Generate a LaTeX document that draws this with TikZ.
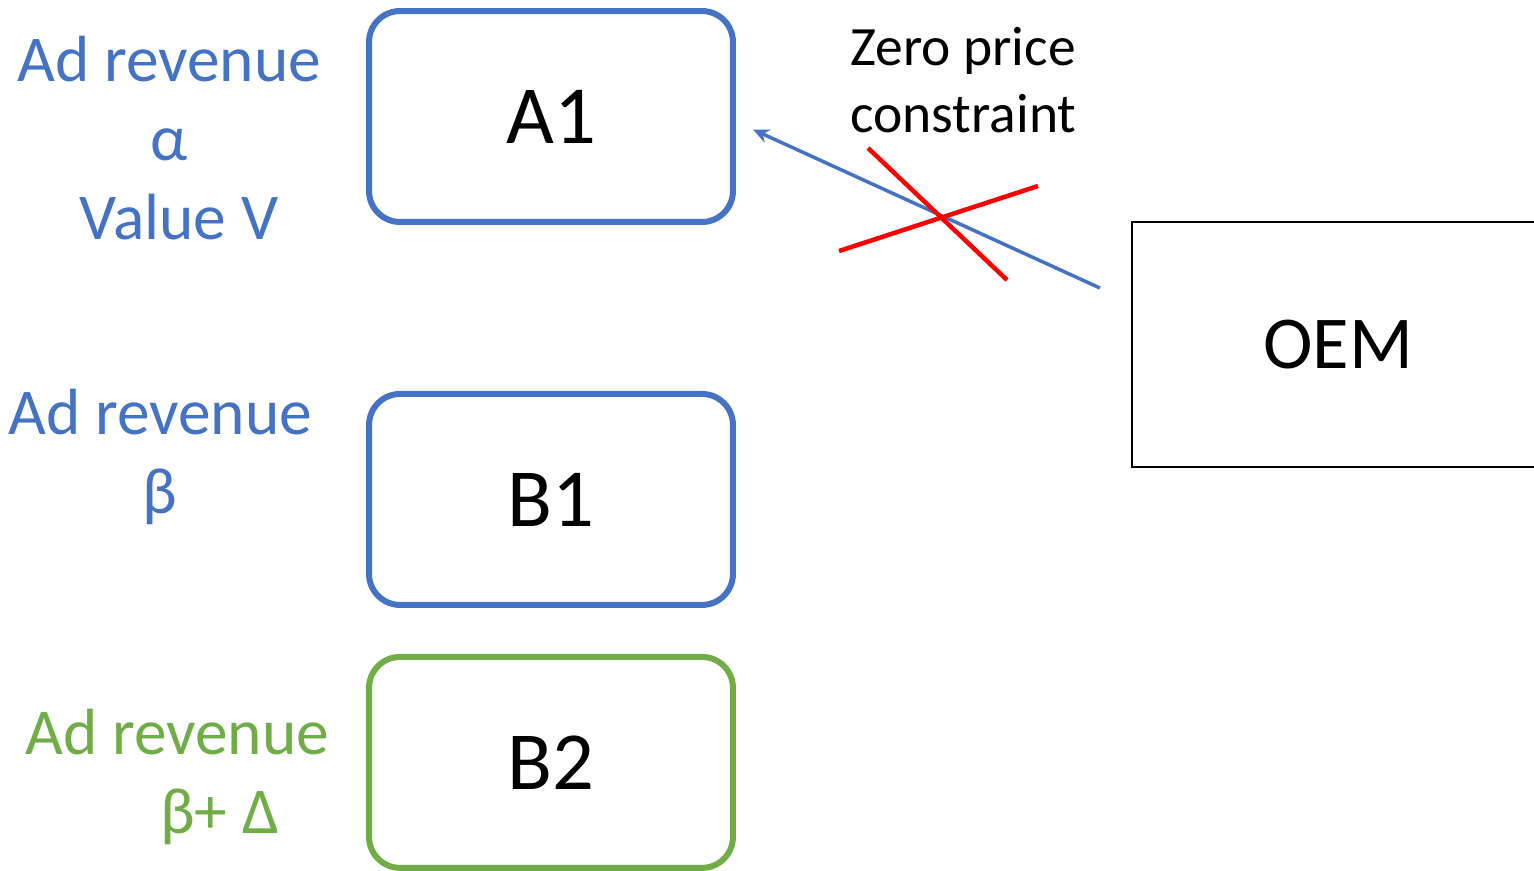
\documentclass[tikz,border=0pt]{standalone}
\usepackage{fontspec}
\setmainfont{Carlito}
\usetikzlibrary{positioning,arrows.meta,calc}
\definecolor{AdBlue}{HTML}{4472C4}
\definecolor{AdGreen}{HTML}{70AD47}
\definecolor{AdRed}{HTML}{FF0000}
\tikzset{
  appbox/.style={
    rectangle,
    rounded corners=0.62cm,
    line width=0.12cm,
    fill=white,
    inner sep=0pt,
    minimum width=7.28cm,
    minimum height=4.22cm,
    font=\fontsize{47}{56}\selectfont
  },
  appblue/.style={appbox,draw=AdBlue},
  appgreen/.style={appbox,draw=AdGreen},
  oembox/.style={rectangle,draw=black,line width=0.045cm,
    minimum width=8.24cm,minimum height=4.9cm,font=\fontsize{42.5}{51}\selectfont},
  revlabel/.style={align=center,inner sep=0pt,font=\fontsize{37.2}{45}\selectfont},
  notelabel/.style={align=left,inner sep=0pt,font=\fontsize{31.6}{38}\selectfont},
  offerarrow/.style={-{Stealth[length=3.2mm,width=2.8mm]},line width=0.07cm,draw=AdBlue},
  crossline/.style={draw=AdRed,line width=0.09cm},
}
\begin{document}
\begin{tikzpicture}[x=0.02cm,y=-0.02cm]
  \clip (0,0) rectangle (1534,870);

  \node[appblue] (A1) at (551,116.5) {A1};
  \node[appblue,below=3.32cm of A1] (B1) {B1};
  \node[appgreen,below=0.92cm of B1] (B2) {B2};
  \node[oembox] (OEM) at (1338,344.5) {OEM};

  \node[revlabel,text=AdBlue] (alphaLbl) at (169,138)
    {Ad revenue\\α\\\hspace*{0.4cm}Value V};
  \node[revlabel,text=AdBlue] (betaLbl) at (160,457)
    {Ad revenue\\β};
  \node[revlabel,text=AdGreen] (deltaLbl) at (177,777)
    {Ad revenue\\\hspace*{1.7cm}β+ Δ};
  \node[notelabel,anchor=north west] (zeroLbl) at (850,27)
    {Zero price\\constraint};

  % offer from the OEM, blocked by the zero price constraint
  \coordinate (oemTail) at ($(OEM.west)+(-31,-56.5)$);
  \draw[offerarrow] (oemTail) -- ($(A1.east)+(17,13)$);
  \draw[crossline] (868,148) -- (1007,280);
  \draw[crossline] (839,251) -- (1038,186);
\end{tikzpicture}
\end{document}
